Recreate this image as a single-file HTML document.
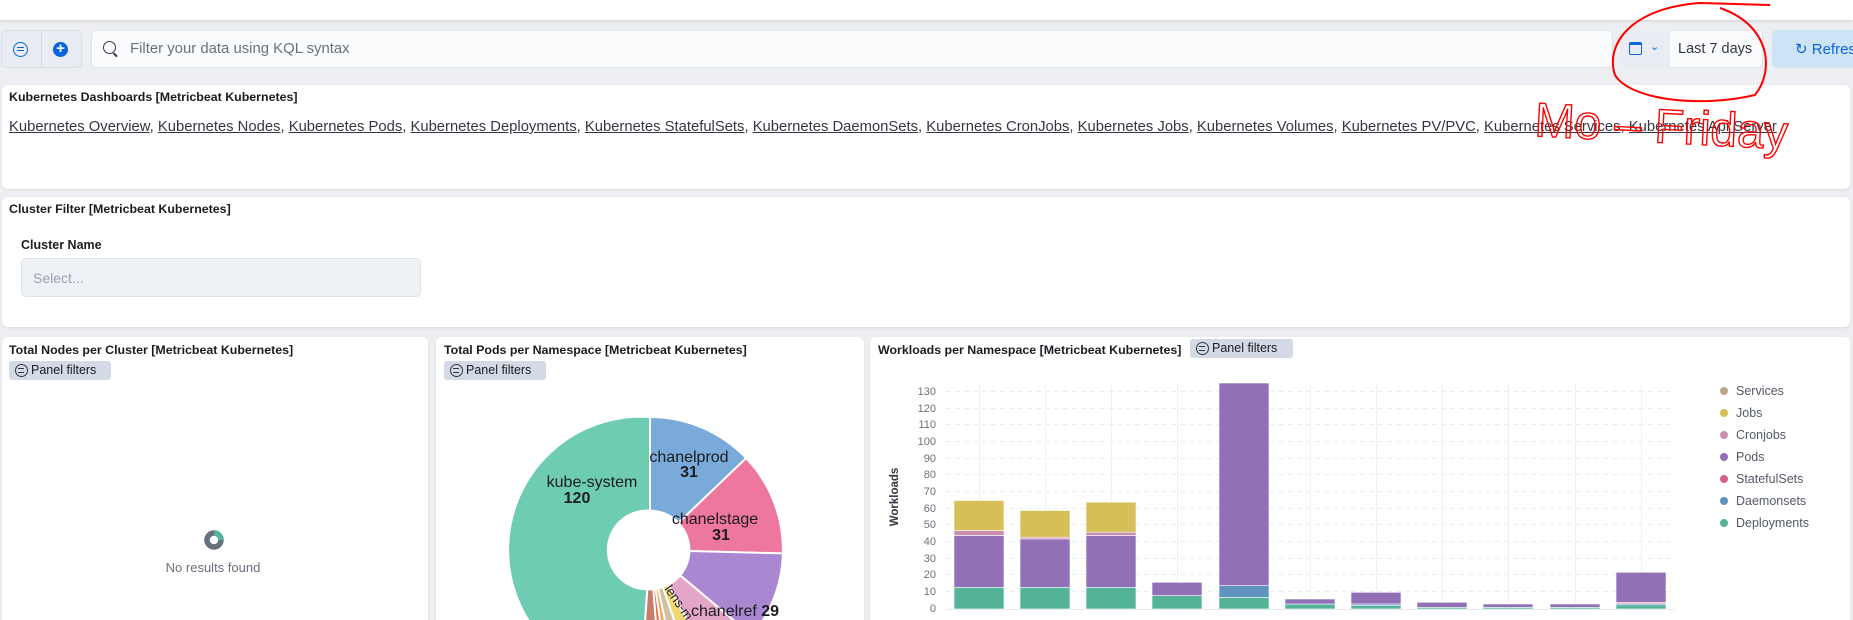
<!DOCTYPE html>
<html><head><meta charset="utf-8"><style>
*{box-sizing:border-box;margin:0;padding:0}
body{width:1853px;height:620px;overflow:hidden;background:#eceef2;font-family:"Liberation Sans",sans-serif;position:relative;color:#1a1c21}
.a{position:absolute}
.panel{position:absolute;background:#fff;border-radius:6px;box-shadow:0 1px 2px rgba(0,0,0,.08)}
.t{position:absolute;font-size:12.4px;font-weight:bold;color:#1a1c21;white-space:nowrap}
.badge{position:absolute;background:#d3dae6;border-radius:3px;font-size:12.5px;color:#1a1c21;height:19px;line-height:19px;padding-left:22px;white-space:nowrap}
.badge:before{content:"";position:absolute;left:6px;top:3px;width:11px;height:11px;border:1.3px solid #343741;border-radius:50%}
.badge:after{content:"";position:absolute;left:9px;top:7px;width:6px;height:3px;border-top:1.2px solid #343741;border-bottom:1.2px solid #343741}
.links{font-size:14.8px;color:#343741;white-space:nowrap}
.links u{text-decoration:underline}
</style></head><body>
<div class="a" style="left:0;top:0;width:1853px;height:20px;background:#fff;box-shadow:0 1px 3px rgba(0,0,0,.12)"></div>
<div class="a" style="left:1px;top:30px;width:81px;height:38px;background:#e9edf3;border:1px solid #d9dee7;border-radius:5px"></div>
<div class="a" style="left:41px;top:30px;width:1px;height:38px;background:#d3dae6"></div>
<div class="a" style="left:13px;top:42px;width:15px;height:15px;border:1.5px solid #0b64dd;border-radius:50%"></div>
<div class="a" style="left:17px;top:47px;width:7px;height:4px;border-top:1.3px solid #0b64dd;border-bottom:1.3px solid #0b64dd"></div>
<div class="a" style="left:53px;top:42px;width:15px;height:15px;background:#0b64dd;border-radius:50%;color:#fff;font-size:15px;line-height:14px;text-align:center;font-weight:bold">+</div>
<div class="a" style="left:91px;top:30px;width:1522px;height:38px;background:#fbfcfd;border:1px solid #dfe3ea;border-radius:5px"></div>
<div class="a" style="left:103px;top:41px;width:13px;height:13px;border:1.5px solid #343741;border-radius:50%"></div>
<div class="a" style="left:113px;top:54px;width:5px;height:1.5px;background:#343741;transform:rotate(45deg)"></div>
<div class="a" style="left:130px;top:41px;font-size:14.9px;color:#69707d">Filter your data using KQL syntax</div>
<div class="a" style="left:1619px;top:30px;width:144px;height:38px;background:#fbfcfd;border:1px solid #dfe3ea;border-radius:5px"></div>
<div class="a" style="left:1619px;top:30px;width:51px;height:38px;background:#e9edf3;border-radius:5px 0 0 5px"></div>
<div class="a" style="left:1629px;top:42px;width:13px;height:13px;border:1.5px solid #0b64dd;border-top-width:3px;border-radius:2px"></div>
<div class="a" style="left:1650px;top:40px;font-size:11px;color:#0b64dd">&#8964;</div>
<div class="a" style="left:1678px;top:41px;font-size:14.5px;color:#343741">Last 7 days</div>
<div class="a" style="left:1772px;top:30px;width:100px;height:38px;background:#cce4f5;border-radius:5px"></div>
<div class="a" style="left:1795px;top:40px;font-size:15px;color:#0b64dd">&#8635;&nbsp;Refresh</div>

<div class="panel" style="left:2px;top:85px;width:1848px;height:104px"></div>
<div class="t" style="left:9px;top:90px">Kubernetes Dashboards [Metricbeat Kubernetes]</div>
<div class="a links" style="left:9px;top:119px"><u>Kubernetes Overview</u>, <u>Kubernetes Nodes</u>, <u>Kubernetes Pods</u>, <u>Kubernetes Deployments</u>, <u>Kubernetes StatefulSets</u>, <u>Kubernetes DaemonSets</u>, <u>Kubernetes CronJobs</u>, <u>Kubernetes Jobs</u>, <u>Kubernetes Volumes</u>, <u>Kubernetes PV/PVC</u>, <u>Kubernetes Services</u>, <u>Kubernetes Api Server</u></div>

<div class="panel" style="left:2px;top:197px;width:1848px;height:130px"></div>
<div class="t" style="left:9px;top:202px">Cluster Filter [Metricbeat Kubernetes]</div>
<div class="t" style="left:21px;top:238px;font-size:12.5px">Cluster Name</div>
<div class="a" style="left:21px;top:258px;width:400px;height:39px;background:#eef1f6;border:1px solid #dde2ea;border-radius:5px"></div>
<div class="a" style="left:33px;top:270px;font-size:14px;color:#98a2b3">Select...</div>

<div class="panel" style="left:2px;top:337px;width:426px;height:283px;border-radius:6px 6px 0 0"></div>
<div class="t" style="left:9px;top:343px">Total Nodes per Cluster [Metricbeat Kubernetes]</div>
<div class="badge" style="left:9px;top:361px;width:102px">Panel filters</div>
<svg class="a" style="left:203px;top:529px" width="22" height="22" viewBox="0 0 22 22"><circle cx="11" cy="11" r="7" fill="none" stroke="#69707d" stroke-width="5.5"/><path d="M11 4 A7 7 0 0 1 18 11" fill="none" stroke="#54b399" stroke-width="5.5"/></svg>
<div class="a" style="left:113px;top:560px;width:200px;text-align:center;font-size:13px;color:#69707d">No results found</div>

<div class="panel" style="left:436px;top:337px;width:428px;height:283px;border-radius:6px 6px 0 0"></div>
<div class="t" style="left:444px;top:343px">Total Pods per Namespace [Metricbeat Kubernetes]</div>
<div class="badge" style="left:444px;top:361px;width:102px">Panel filters</div>
<svg class="a" style="left:436px;top:337px" width="428" height="283">
<g transform="translate(214,213) scale(0.985)" stroke="#fff" stroke-width="2">
<path d="M0,-135 A135,135 0 0 1 97.6,-93.3 L28.9,-27.6 A40,40 0 0 0 0,-40Z" fill="#79aad9"/>
<path d="M97.6,-93.3 A135,135 0 0 1 134.9,3.5 L40,1 A40,40 0 0 0 28.9,-27.6Z" fill="#ee789d"/>
<path d="M134.9,3.5 A135,135 0 0 1 103.4,86.8 L30.6,25.7 A40,40 0 0 0 40,1Z" fill="#a987d1"/>
<path d="M103.4,86.8 A135,135 0 0 1 62.9,119.4 L18.6,35.4 A40,40 0 0 0 30.6,25.7Z" fill="#e4a6c7"/>
<path d="M62.9,119.4 A135,135 0 0 1 44,127.6 L13,37.8 A40,40 0 0 0 18.6,35.4Z" fill="#f1d86f"/>
<path d="M44,127.6 A135,135 0 0 1 28,132 L8.3,39.1 A40,40 0 0 0 13,37.8Z" fill="#d2c0a0"/>
<path d="M28,132 A135,135 0 0 1 19,133.7 L5.6,39.6 A40,40 0 0 0 8.3,39.1Z" fill="#f5a35c"/>
<path d="M19,133.7 A135,135 0 0 1 11,134.5 L3.3,39.9 A40,40 0 0 0 5.6,39.6Z" fill="#e7664c"/>
<path d="M11,134.5 A135,135 0 0 1 -9.4,134.7 L-2.8,39.9 A40,40 0 0 0 3.3,39.9Z" fill="#c47c6c"/>
<path d="M-9.4,134.7 A135,135 0 1 1 0,-135 L0,-40 A40,40 0 1 0 -2.8,39.9Z" fill="#6dccb1"/>
</g>
<g font-size="16" fill="#1a1c21" stroke="none">
<text x="156" y="150" text-anchor="middle">kube-system</text>
<text x="141" y="166" text-anchor="middle" font-weight="bold">120</text>
<text x="253" y="125" text-anchor="middle">chanelprod</text>
<text x="253" y="140" text-anchor="middle" font-weight="bold">31</text>
<text x="279" y="187" text-anchor="middle">chanelstage</text>
<text x="285" y="203" text-anchor="middle" font-weight="bold">31</text>
<text x="255" y="279">chanelref <tspan font-weight="bold">29</tspan></text>
<text x="0" y="0" font-size="13" transform="translate(228,252) rotate(55)">lens-m</text>
</g>
</svg>

<div class="panel" style="left:870px;top:337px;width:980px;height:283px;border-radius:6px 6px 0 0"></div>
<div class="t" style="left:878px;top:343px">Workloads per Namespace [Metricbeat Kubernetes]</div>
<div class="badge" style="left:1190px;top:339px;width:103px">Panel filters</div>
<svg class="a" style="left:870px;top:337px" width="980" height="283">
<g transform="translate(-870,-337)">
<g stroke="#eceef2" stroke-width="1" stroke-dasharray="5,4">
<line x1="946" x2="1675" y1="591.5" y2="591.5"/><line x1="946" x2="1675" y1="574.5" y2="574.5"/><line x1="946" x2="1675" y1="558.5" y2="558.5"/><line x1="946" x2="1675" y1="541.5" y2="541.5"/><line x1="946" x2="1675" y1="524.5" y2="524.5"/><line x1="946" x2="1675" y1="508.5" y2="508.5"/><line x1="946" x2="1675" y1="491.5" y2="491.5"/><line x1="946" x2="1675" y1="474.5" y2="474.5"/><line x1="946" x2="1675" y1="458.5" y2="458.5"/><line x1="946" x2="1675" y1="441.5" y2="441.5"/><line x1="946" x2="1675" y1="424.5" y2="424.5"/><line x1="946" x2="1675" y1="408.5" y2="408.5"/><line x1="946" x2="1675" y1="391.5" y2="391.5"/>
</g>
<g stroke="#eef0f3" stroke-width="1">
<line x1="979.5" x2="979.5" y1="383" y2="609"/><line x1="1045.5" x2="1045.5" y1="383" y2="609"/><line x1="1111.5" x2="1111.5" y1="383" y2="609"/><line x1="1177.5" x2="1177.5" y1="383" y2="609"/><line x1="1244.5" x2="1244.5" y1="383" y2="609"/><line x1="1310.5" x2="1310.5" y1="383" y2="609"/><line x1="1376.5" x2="1376.5" y1="383" y2="609"/><line x1="1442.5" x2="1442.5" y1="383" y2="609"/><line x1="1508.5" x2="1508.5" y1="383" y2="609"/><line x1="1575.5" x2="1575.5" y1="383" y2="609"/><line x1="1641.5" x2="1641.5" y1="383" y2="609"/>
<line x1="946" x2="1675" y1="609.5" y2="609.5" stroke="#e6e8ec"/>
</g>
<g font-size="11" fill="#69707d" text-anchor="end">
<text x="936" y="612">0</text><text x="936" y="595">10</text><text x="936" y="578">20</text><text x="936" y="562">30</text><text x="936" y="545">40</text><text x="936" y="528">50</text><text x="936" y="512">60</text><text x="936" y="495">70</text><text x="936" y="478">80</text><text x="936" y="462">90</text><text x="936" y="445">100</text><text x="936" y="428">110</text><text x="936" y="412">120</text><text x="936" y="395">130</text>
</g>
<text transform="translate(898,497) rotate(-90)" font-size="11.5" font-weight="bold" text-anchor="middle" fill="#343741">Workloads</text>
<g stroke="#fff" stroke-width="0.6">
<rect x="954" y="587.3" width="50" height="21.7" fill="#54b399"/><rect x="954" y="535.5" width="50" height="51.8" fill="#9170b8"/><rect x="954" y="530.5" width="50" height="5" fill="#ca8eae"/><rect x="954" y="500.5" width="50" height="30" fill="#d6bf57"/>
<rect x="1020" y="587.3" width="50" height="21.7" fill="#54b399"/><rect x="1020" y="538.9" width="50" height="48.4" fill="#9170b8"/><rect x="1020" y="537.2" width="50" height="1.7" fill="#ca8eae"/><rect x="1020" y="510.5" width="50" height="26.7" fill="#d6bf57"/>
<rect x="1086" y="587.3" width="50" height="21.7" fill="#54b399"/><rect x="1086" y="535.5" width="50" height="51.8" fill="#9170b8"/><rect x="1086" y="532.2" width="50" height="3.3" fill="#ca8eae"/><rect x="1086" y="502.2" width="50" height="30" fill="#d6bf57"/>
<rect x="1152" y="595.6" width="50" height="13.4" fill="#54b399"/><rect x="1152" y="582.3" width="50" height="13.3" fill="#9170b8"/>
<rect x="1219" y="597.3" width="50" height="11.7" fill="#54b399"/><rect x="1219" y="585.6" width="50" height="11.7" fill="#6092c0"/><rect x="1219" y="383" width="50" height="202.6" fill="#9170b8"/>
<rect x="1285" y="604" width="50" height="5" fill="#54b399"/><rect x="1285" y="599" width="50" height="5" fill="#9170b8"/>
<rect x="1351" y="605.7" width="50" height="3.3" fill="#54b399"/><rect x="1351" y="604" width="50" height="1.7" fill="#6092c0"/><rect x="1351" y="592.3" width="50" height="11.7" fill="#9170b8"/>
<rect x="1417" y="607.3" width="50" height="1.7" fill="#54b399"/><rect x="1417" y="602.3" width="50" height="5" fill="#9170b8"/>
<rect x="1483" y="607.3" width="50" height="1.7" fill="#54b399"/><rect x="1483" y="604" width="50" height="3.3" fill="#9170b8"/>
<rect x="1550" y="607.3" width="50" height="1.7" fill="#54b399"/><rect x="1550" y="604" width="50" height="3.3" fill="#9170b8"/>
<rect x="1616" y="604.8" width="50" height="4.2" fill="#54b399"/><rect x="1616" y="603.6" width="50" height="1.2" fill="#6092c0"/><rect x="1616" y="602.3" width="50" height="1.3" fill="#d36086"/><rect x="1616" y="572.3" width="50" height="30" fill="#9170b8"/>
</g>
<g font-size="12.5" fill="#535966">
<circle cx="1724" cy="391" r="4" fill="#b9a888"/><text x="1736" y="395">Services</text>
<circle cx="1724" cy="413" r="4" fill="#d6bf57"/><text x="1736" y="417">Jobs</text>
<circle cx="1724" cy="435" r="4" fill="#ca8eae"/><text x="1736" y="439">Cronjobs</text>
<circle cx="1724" cy="457" r="4" fill="#9170b8"/><text x="1736" y="461">Pods</text>
<circle cx="1724" cy="479" r="4" fill="#d36086"/><text x="1736" y="483">StatefulSets</text>
<circle cx="1724" cy="501" r="4" fill="#6092c0"/><text x="1736" y="505">Daemonsets</text>
<circle cx="1724" cy="523" r="4" fill="#54b399"/><text x="1736" y="527">Deployments</text>
</g>
</g>
</svg>

<svg class="a" style="left:0;top:0" width="1853" height="620">
<path d="M1770 5 L1700 3 C1630 8 1605 45 1615 75 C1630 100 1700 108 1755 95 C1775 70 1770 25 1720 8" fill="none" stroke="#ff0000" stroke-width="2"/>
<text x="1535" y="142" font-size="48" fill="none" stroke="#ff0000" stroke-width="1.4" transform="rotate(3 1650 120)">Mo – Friday</text>
</svg>
</body></html>
